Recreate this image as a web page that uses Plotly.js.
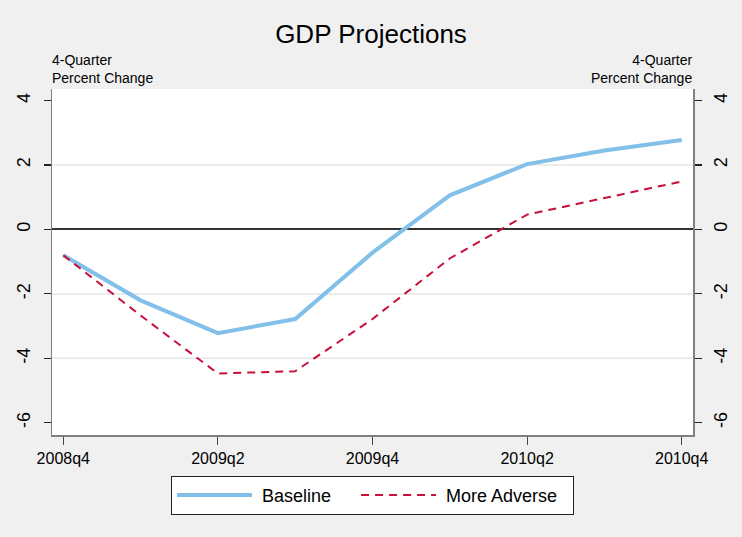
<!DOCTYPE html>
<html>
<head>
<meta charset="utf-8">
<script src="https://cdn.plot.ly/plotly-3.0.1.min.js"></script>
<style>html,body{margin:0;padding:0;background:#f0f0f0;}#chart{width:742px;height:537px;}</style>
</head>
<body>
<div id="chart"></div>
<script>
const quarters = ['2008q4','2009q1','2009q2','2009q3','2009q4','2010q1','2010q2','2010q3','2010q4'];
const baseline = [-0.8, -2.2, -3.22, -2.78, -0.72, 1.06, 2.03, 2.45, 2.78];
const moreAdverse = [-0.8, -2.67, -4.47, -4.4, -2.78, -0.9, 0.46, 0.98, 1.49];
const seriesNames = ['Baseline', 'More Adverse'];
const xTickLabels = ['2008q4','2009q2','2009q4','2010q2','2010q4'];
const yTicks = [-6, -4, -2, 0, 2, 4];
const gridVals = [-4, -2, 2];
const yAxisNote = '4-Quarter<br>Percent Change';

const font = 'Arial, "Liberation Sans", sans-serif';
const yRange = [-6.38, 4.36];
const nb = '\u00a0';

const traces = [
  {x: quarters, y: baseline, type: 'scatter', mode: 'lines', name: nb + seriesNames[0] + nb.repeat(4),
   line: {color: '#82bfe9', width: 4}, yaxis: 'y'},
  {x: quarters, y: moreAdverse, type: 'scatter', mode: 'lines', name: nb + seriesNames[1] + nb.repeat(2),
   line: {color: '#c8103c', width: 2, dash: '8px,6px'}, yaxis: 'y'},
  {x: quarters, y: baseline, type: 'scatter', mode: 'lines', showlegend: false,
   hoverinfo: 'skip', line: {width: 0, color: 'rgba(0,0,0,0)'}, yaxis: 'y2'}
];

const tickFontY = {family: font, size: 18, color: '#000'};

const layout = {
  width: 742, height: 537,
  paper_bgcolor: '#f0f0f0', plot_bgcolor: '#ffffff',
  margin: {l: 52, r: 49, t: 89, b: 102},
  font: {family: font, color: '#000'},
  title: {text: 'GDP Projections', font: {family: font, size: 26, color: '#000'},
          x: 0.5, xanchor: 'center', y: 1 - 34/537, yanchor: 'middle', yref: 'container'},
  showlegend: true,
  legend: {orientation: 'h', x: 0.5, xanchor: 'center', y: -0.118, yanchor: 'top',
           bgcolor: '#ffffff', bordercolor: '#222', borderwidth: 1,
           font: {family: font, size: 18, color: '#000'}, itemwidth: 75},
  xaxis: {type: 'category', categoryorder: 'array', categoryarray: quarters,
          range: [-0.146, 8.146], tickmode: 'array', tickvals: xTickLabels, ticktext: xTickLabels,
          showgrid: false, zeroline: false, showline: true, linecolor: '#808080', linewidth: 1.5,
          ticks: 'outside', ticklen: 8, tickwidth: 1.2, tickcolor: '#444',
          tickfont: {family: font, size: 16, color: '#000'}, fixedrange: true},
  yaxis: {range: yRange, tickmode: 'array', tickvals: yTicks, ticktext: yTicks.map(String),
          tickangle: -90, showgrid: false, zeroline: true, zerolinecolor: '#333', zerolinewidth: 2,
          showline: true, linecolor: '#808080', linewidth: 1.5,
          ticks: 'outside', ticklen: 7, tickwidth: 1.2, tickcolor: '#222', ticklabelstandoff: 6,
          tickfont: tickFontY, fixedrange: true},
  yaxis2: {overlaying: 'y', side: 'right', matches: 'y', range: yRange, tickmode: 'array',
           tickvals: yTicks, ticktext: yTicks.map(String), tickangle: -90,
           showgrid: false, zeroline: false, showline: true, linecolor: '#808080', linewidth: 1.5,
           ticks: 'outside', ticklen: 7, tickwidth: 1.2, tickcolor: '#222', ticklabelstandoff: 4,
           tickfont: tickFontY, fixedrange: true},
  shapes: gridVals.map(v => ({type: 'line', xref: 'paper', x0: 0, x1: 1, yref: 'y', y0: v, y1: v,
                              layer: 'below', line: {color: '#e6e6e6', width: 1.5}})),
  annotations: [
    {text: yAxisNote, xref: 'paper', yref: 'paper', x: 0, y: 1, xanchor: 'left', yanchor: 'bottom',
     align: 'left', xshift: -2, yshift: 1, showarrow: false, font: {family: font, size: 14, color: '#000'}},
    {text: yAxisNote, xref: 'paper', yref: 'paper', x: 1, y: 1, xanchor: 'right', yanchor: 'bottom',
     align: 'right', xshift: 2, yshift: 1, showarrow: false, font: {family: font, size: 14, color: '#000'}}
  ]
};

Plotly.newPlot('chart', traces, layout, {displayModeBar: false, staticPlot: true});
</script>
</body>
</html>
